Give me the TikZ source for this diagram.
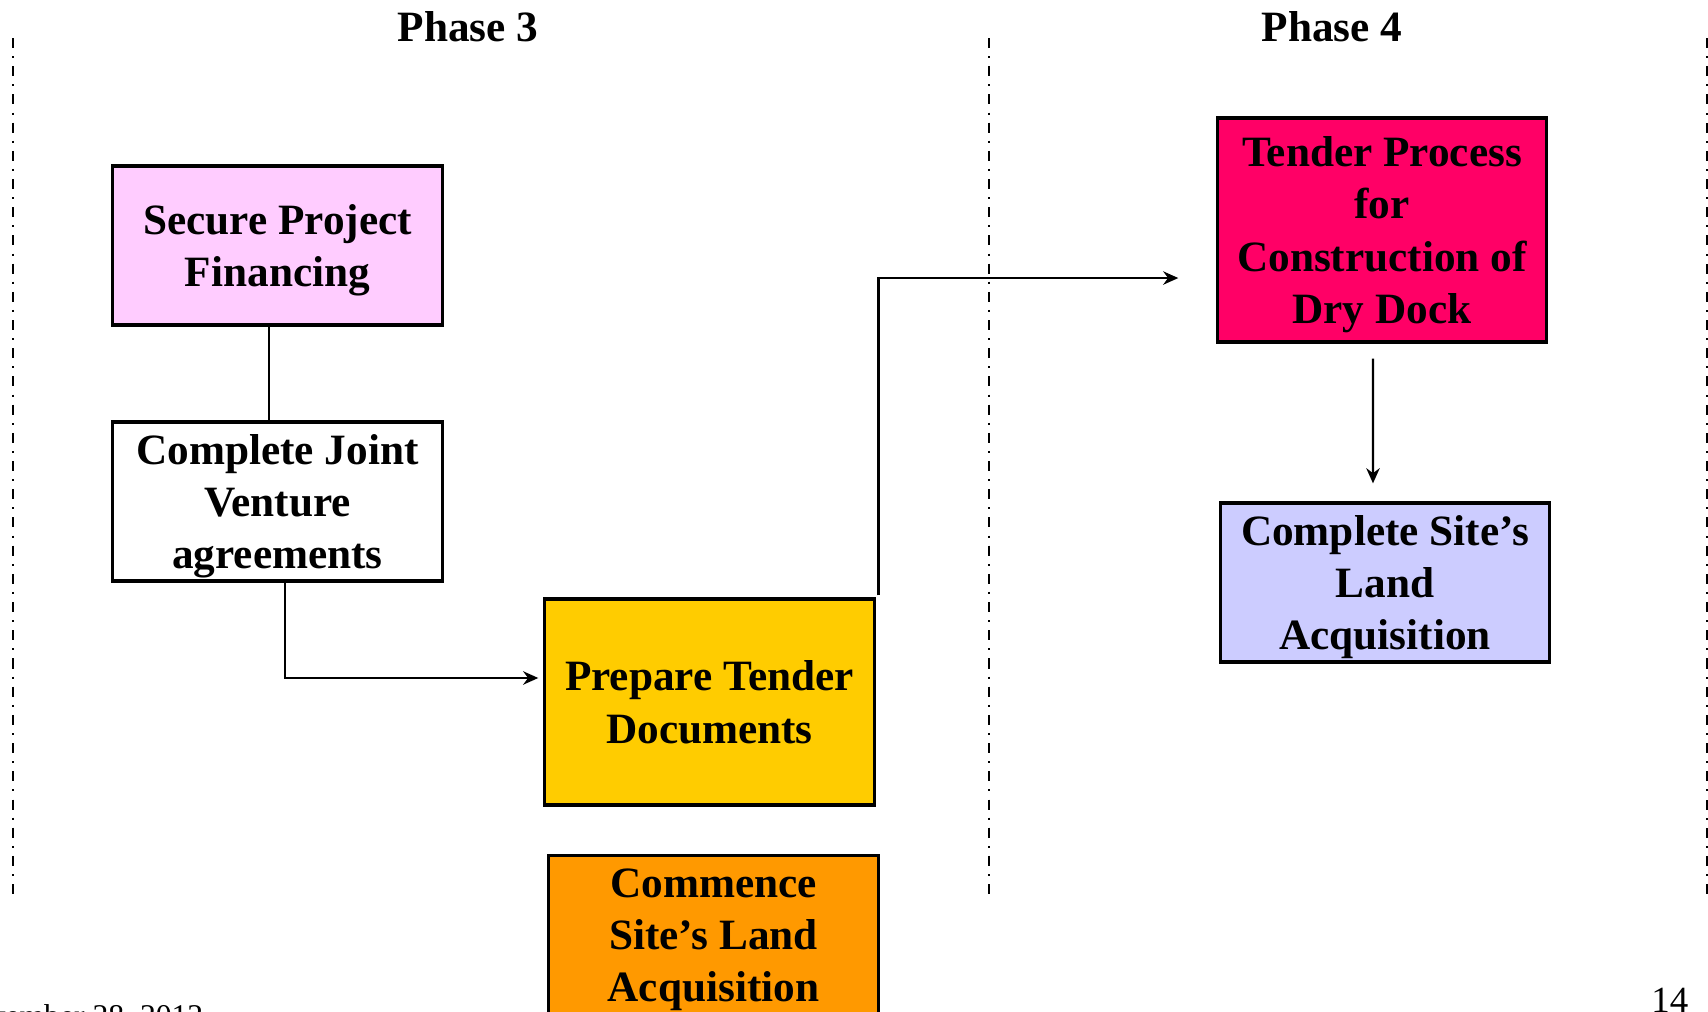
\documentclass[tikz,border=0pt]{standalone}
\usepackage{fontspec}
\setmainfont{Liberation Serif}
\usepackage{xcolor}
\definecolor{FillPink}{RGB}{255,204,255}
\definecolor{FillGold}{RGB}{255,204,0}
\definecolor{FillOrange}{RGB}{255,153,0}
\definecolor{FillCrimson}{RGB}{255,0,102}
\definecolor{FillLavender}{RGB}{204,204,255}
\usetikzlibrary{arrows.meta, positioning, calc}
\tikzset{
  % Task box (fixed text depth keeps lines centred on their metrics)
  rbox/.style={
    rectangle, draw=black, line width=0.9pt,
    fill=white,
    align=center,
    minimum width=3.29cm, minimum height=1.59cm,
    font=\bfseries\fontsize{12.3}{14.8}\selectfont,
    inner sep=2pt,
    text depth=-0.4pt
  },
  % Colored box variants
  rbox pink/.style={rbox, fill=FillPink},
  rbox gold/.style={rbox, fill=FillGold, minimum height=2.06cm},
  rbox orange/.style={rbox, fill=FillOrange},
  rbox crimson/.style={rbox, fill=FillCrimson, minimum width=3.28cm, minimum height=2.24cm},
  rbox lavender/.style={rbox, fill=FillLavender, minimum width=3.28cm},
  % Phase heading and separator
  phasehead/.style={font=\bfseries\fontsize{12.3}{14.8}\selectfont},
  phaseline/.style={line width=0.75pt,
    dash pattern=on 2.85pt off 2.3pt on 0.57pt off 2.3pt},
  % Arrows
  link/.style={line width=0.7pt, black},
  arr/.style={link, -{Stealth[length=4.3pt,width=3.8pt]}},
  footer/.style={font=\fontsize{10.5}{12}\selectfont, inner sep=0pt},
}
\begin{document}
\begin{tikzpicture}[x=0.01cm, y=-0.01cm]
  \useasboundingbox (0,0) rectangle (1708,1011);
  \clip (0,0) rectangle (1708,1011);

  % phase separators
  \draw[phaseline] (13,38) -- (13,899);
  \draw[phaseline] (989,38) -- (989,899);
  \draw[phaseline] (1707.5,38) -- (1707.5,899);

  \node[phasehead] (ph3) at (468,27) {Phase 3};
  \node[phasehead] (ph4) at (1332,27) {Phase 4};

  % phase 3 tasks
  \node[rbox pink] (fin) at (277.5,245.5) {Secure Project\\Financing};
  \node[rbox] (jv) at (277.5,501.5) {Complete Joint\\Venture\\agreements};
  \node[rbox gold] (prep) at (709.5,702) {Prepare Tender\\Documents};
  \node[rbox orange] (comm) at (713.5,935) {Commence\\Site’s Land\\Acquisition};

  % phase 4 tasks
  \node[rbox crimson] (tend) at (1382,230) {Tender Process\\for\\Construction of\\Dry Dock};
  \node[rbox lavender] (land) at (1385,582.5) {Complete Site’s\\Land\\Acquisition};

  % links
  \draw[link] ([xshift=-0.085cm]fin.south) -- ([xshift=-0.085cm]jv.north);
  \draw[arr] ([xshift=0.075cm]jv.south) |- ([xshift=-0.05cm,yshift=0.24cm]prep.west);
  \draw[arr] ([xshift=0.03cm,yshift=0.02cm]prep.north east) |- ([xshift=-0.38cm,yshift=-0.48cm]tend.west);
  \draw[arr] ([xshift=-0.09cm,yshift=-0.15cm]tend.south) -- ([xshift=-0.12cm,yshift=0.18cm]land.north);

  % footer
  \node[footer, font=\fontsize{9}{11}\selectfont, anchor=base east] (date) at (204,1026) {November 28, 2012};
  \node[footer, anchor=base east] (page) at (1689,1012) {14};
\end{tikzpicture}
\end{document}
